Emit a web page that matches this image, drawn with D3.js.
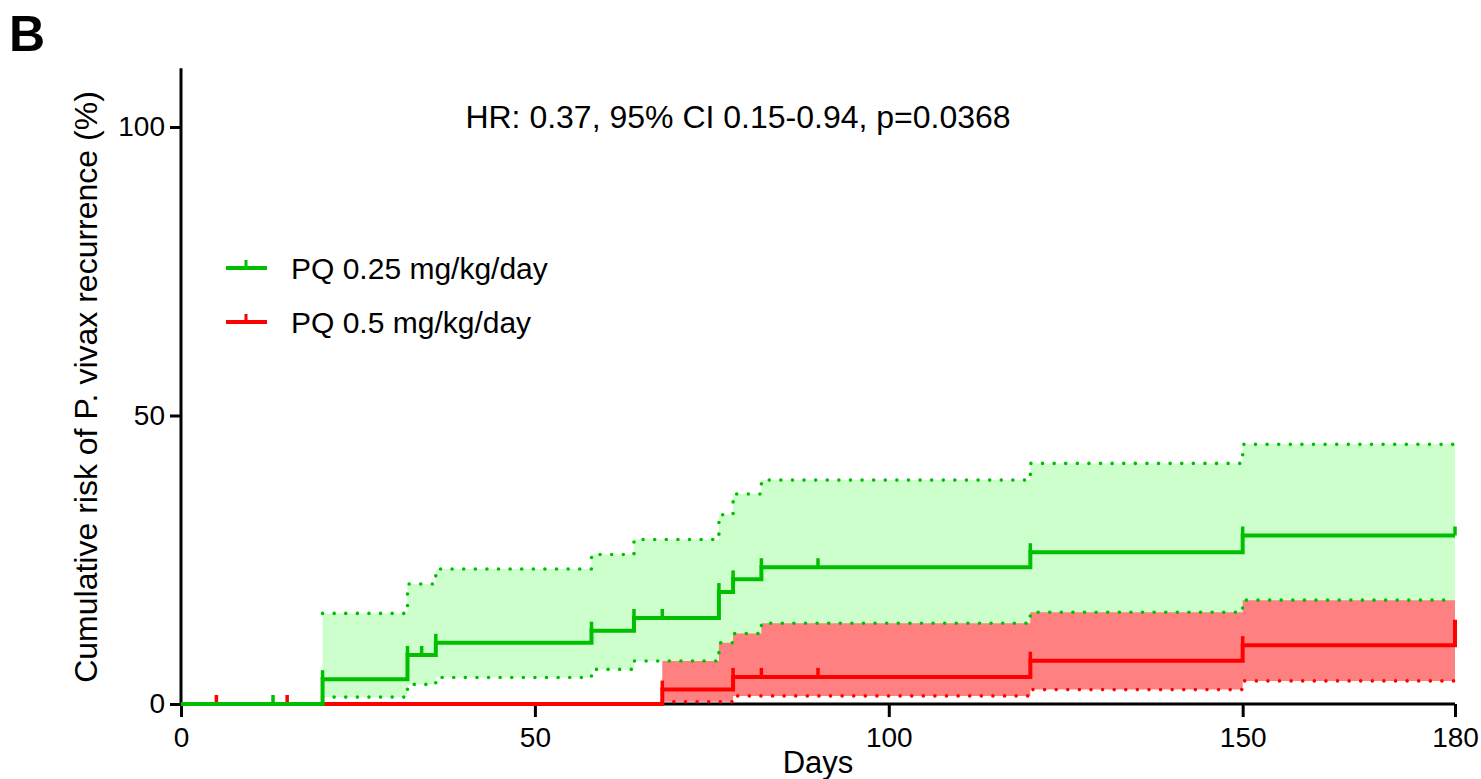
<!DOCTYPE html>
<html>
<head>
<meta charset="utf-8">
<script src="https://cdn.jsdelivr.net/npm/d3@7"></script>
<style>
  html, body { margin: 0; padding: 0; background: #fff; }
  svg { display: block; font-family: Arial, "Liberation Sans", sans-serif; }
</style>
</head>
<body>
<svg id="chart" width="1481" height="779"></svg>
<script>
// ---------------- data ----------------
const xTicks = [0, 50, 100, 150, 180];
const yTicks = [0, 50, 100];

// PQ 0.25 mg/kg/day (green)
const greenTimes = [0, 20, 32, 36, 58, 64, 76, 78, 82, 120, 150, 180];
const greenRisk  = [0, 4.3, 8.5, 10.6, 12.7, 14.9, 19.4, 21.6, 23.7, 26.3, 29.2, 29.2];
const greenUpper = [0, 15.7, 20.8, 23.4, 25.9, 28.5, 32.8, 36.4, 38.8, 41.7, 45.0, 45.0];
const greenLower = [0, 1.2, 3.4, 4.6, 6.0, 7.45, 10.6, 12.2, 14.0, 15.9, 18.0, 18.0];
const greenCensor = [13, 20, 32, 34, 36, 58, 64, 68, 76, 78, 82, 90, 120, 150, 180];

// PQ 0.5 mg/kg/day (red)
const redTimes = [0, 68, 78, 120, 150, 180];
const redRisk  = [0, 2.5, 4.7, 7.5, 10.2, 14.6];
const redUpper = [0, 14.0, 17.0, 21.0, 25.0, 25.0];   // hidden beneath green band
const redLower = [0, 0.4, 1.4, 2.5, 4.0, 4.7];
const redCensor = [5, 15, 68, 78, 82, 90, 120, 150];

const seriesNames = ["PQ 0.25 mg/kg/day", "PQ 0.5 mg/kg/day"];
const hrText = "HR: 0.37, 95% CI 0.15-0.94, p=0.0368";

// ---------------- drawing ----------------
const GREEN = "#00bf00", GREEN_FILL = "#ccffcc";
const RED = "#ff0000", RED_FILL = "#ff8080";
const FONT = "Arial, 'Liberation Sans', sans-serif";

const svg = d3.select("#chart");
const x = d3.scaleLinear().domain([0, 180]).range([181, 1455]);
const y = d3.scaleLinear().domain([0, 100]).range([704, 127]);

function pts(times, vals, from) {
  const out = [];
  times.forEach((t, i) => { if (i >= from) out.push([t, vals[i]]); });
  return out;
}
function stepValue(times, vals, t) {
  let v = vals[0];
  for (let i = 0; i < times.length; i++) if (times[i] <= t) v = vals[i];
  return v;
}

const line = d3.line().x(d => x(d[0])).y(d => y(d[1])).curve(d3.curveStepAfter);
const area = d3.area().x(d => x(d.t)).y0(d => y(d.lo)).y1(d => y(d.hi)).curve(d3.curveStepAfter);

// Axes
const axisG = svg.append("g");
axisG.append("line").attr("x1", x(0)).attr("x2", x(0)).attr("y1", y(110.2)).attr("y2", y(0))
  .attr("stroke", "#000").attr("stroke-width", 3);
axisG.append("line").attr("x1", x(0)).attr("x2", x(180)).attr("y1", y(0)).attr("y2", y(0))
  .attr("stroke", "#000").attr("stroke-width", 3);
const xAx = d3.axisBottom(x).tickValues(xTicks).tickSize(13).tickPadding(10).tickFormat(d3.format("d"));
const gx = svg.append("g").attr("transform", `translate(0,${y(0)})`).call(xAx);
gx.select(".domain").remove();
gx.selectAll(".tick line").attr("stroke", "#000").attr("stroke-width", 3);
gx.selectAll(".tick text").attr("font-size", 28).attr("fill", "#000").attr("font-family", FONT);
const yAx = d3.axisLeft(y).tickValues(yTicks).tickSize(11).tickPadding(5).tickFormat(d3.format("d"));
const gy = svg.append("g").attr("transform", `translate(${x(0)},0)`).call(yAx);
gy.select(".domain").remove();
gy.selectAll(".tick line").attr("stroke", "#000").attr("stroke-width", 3);
gy.selectAll(".tick text").attr("font-size", 28).attr("fill", "#000").attr("font-family", FONT);

const DOTS = "0,11.6";
// Red band
const redBand = redTimes.map((t, i) => ({t, lo: redLower[i], hi: redUpper[i]})).slice(1);
svg.append("path").datum(redBand).attr("d", area).attr("fill", RED_FILL);
svg.append("path").datum(pts(redTimes, redUpper, 1)).attr("d", line).attr("fill", "none")
  .attr("stroke", RED).attr("stroke-width", 3.6).attr("stroke-linecap", "round").attr("stroke-dasharray", DOTS);
svg.append("path").datum(pts(redTimes, redLower, 1)).attr("d", line).attr("fill", "none")
  .attr("stroke", RED).attr("stroke-width", 3.6).attr("stroke-linecap", "round").attr("stroke-dasharray", DOTS);

// Green band
const greenBand = greenTimes.map((t, i) => ({t, lo: greenLower[i], hi: greenUpper[i]})).slice(1);
svg.append("path").datum(greenBand).attr("d", area).attr("fill", GREEN_FILL);
svg.append("path").datum(pts(greenTimes, greenUpper, 1)).attr("d", line).attr("fill", "none")
  .attr("stroke", GREEN).attr("stroke-width", 3.6).attr("stroke-linecap", "round").attr("stroke-dasharray", DOTS);
svg.append("path").datum(pts(greenTimes, greenLower, 1)).attr("d", line).attr("fill", "none")
  .attr("stroke", GREEN).attr("stroke-width", 3.6).attr("stroke-linecap", "round").attr("stroke-dasharray", DOTS);

// Step lines with censor ticks
function drawCurve(times, vals, censor, color) {
  svg.append("path").datum(pts(times, vals, 0)).attr("d", line).attr("fill", "none")
    .attr("stroke", color).attr("stroke-width", 4).attr("stroke-linejoin", "miter");
  svg.append("g").selectAll("line").data(censor).join("line")
    .attr("x1", d => x(d)).attr("x2", d => x(d))
    .attr("y1", d => y(stepValue(times, vals, d)))
    .attr("y2", d => y(stepValue(times, vals, d)) - 9)
    .attr("stroke", color).attr("stroke-width", 3.5);
}
drawCurve(redTimes, redRisk, redCensor, RED);
drawCurve(greenTimes, greenRisk, greenCensor, GREEN);

// Labels
svg.append("text").attr("x", 9).attr("y", 51).attr("font-size", 50).attr("font-weight", "bold").text("B");
svg.append("text").attr("transform", `translate(97,387) rotate(-90)`).attr("text-anchor", "middle")
  .attr("font-size", 32).text("Cumulative risk of P. vivax recurrence (%)");
svg.append("text").attr("x", x(90)).attr("y", 773).attr("text-anchor", "middle").attr("font-size", 31).text("Days");
svg.append("text").attr("x", 738).attr("y", 128).attr("text-anchor", "middle").attr("font-size", 32).text(hrText);

// Legend
const legend = svg.append("g");
[[GREEN, 268], [RED, 322]].forEach(([c, ly], i) => {
  legend.append("line").attr("x1", 226).attr("x2", 267).attr("y1", ly).attr("y2", ly).attr("stroke", c).attr("stroke-width", 4);
  legend.append("line").attr("x1", 246).attr("x2", 246).attr("y1", ly).attr("y2", ly - 8).attr("stroke", c).attr("stroke-width", 3);
  legend.append("text").attr("x", 291).attr("y", ly + 11).attr("font-size", 30).text(seriesNames[i]);
});
</script>
</body>
</html>
